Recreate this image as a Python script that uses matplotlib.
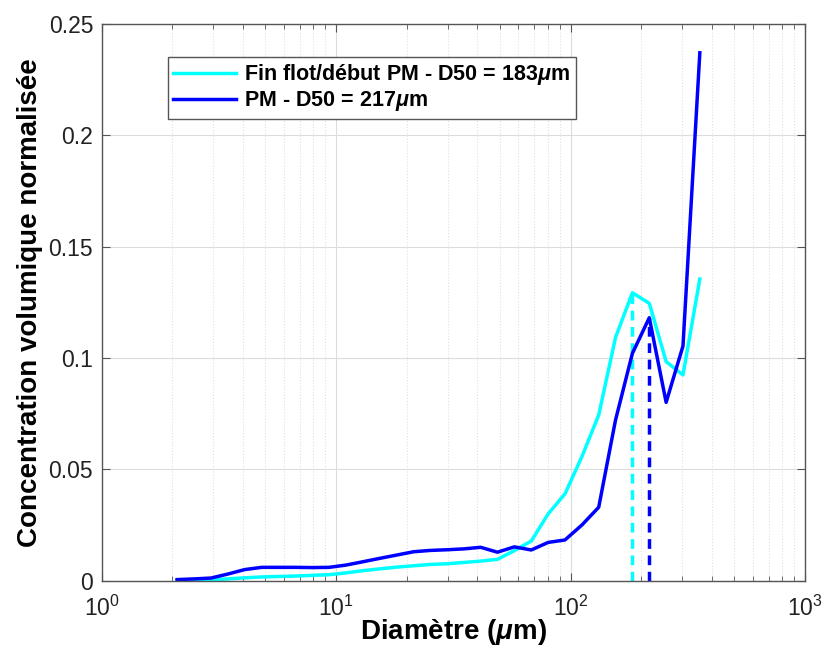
import numpy as np
import matplotlib
matplotlib.use("Agg")
import matplotlib.pyplot as plt
from matplotlib.ticker import FuncFormatter, LogLocator, NullFormatter

plt.rcParams['font.family'] = ['Liberation Sans', 'DejaVu Sans']
plt.rcParams['mathtext.fontset'] = 'custom'
plt.rcParams['mathtext.rm'] = 'Liberation Sans'
plt.rcParams['mathtext.it'] = 'Liberation Sans:italic:bold'
plt.rcParams['mathtext.bf'] = 'Liberation Sans:bold'

# size class centres (um)
diam = [2.10, 2.48, 2.93, 3.46, 4.08, 4.82, 5.68, 6.71, 7.92, 9.34,
        11.0, 13.0, 15.3, 18.1, 21.4, 25.2, 29.7, 35.1, 41.4, 48.8,
        57.6, 68.0, 80.3, 94.7, 111.8, 131.9, 155.6, 183.6, 216.7, 255.7,
        301.7, 356.0]

# Fin flot / debut PM
conc_fin_flot = [0.0000, 0.0001, 0.0004, 0.0008, 0.0013, 0.0017, 0.0019, 0.0021, 0.0024, 0.0027,
                 0.0035, 0.0045, 0.0053, 0.0061, 0.0067, 0.0073, 0.0076, 0.0082, 0.0088, 0.0096,
                 0.0135, 0.0178, 0.0300, 0.0390, 0.0557, 0.0744, 0.1093, 0.1293, 0.1246, 0.0984,
                 0.0924, 0.1355]

# PM
conc_pm = [0.0005, 0.0008, 0.0012, 0.0030, 0.0050, 0.0060, 0.0060, 0.0060, 0.0059, 0.0060,
           0.0070, 0.0085, 0.0100, 0.0115, 0.0130, 0.0136, 0.0139, 0.0143, 0.0150, 0.0128,
           0.0152, 0.0138, 0.0172, 0.0183, 0.0250, 0.0330, 0.0722, 0.1021, 0.1181, 0.0801,
           0.1054, 0.2371]

d50 = [183, 217]
labels = [r'Fin flot/début PM - D50 = 183$\mu$m', r'PM - D50 = 217$\mu$m']
colors = ['#00FFFF', '#0000FF']
series = [conc_fin_flot, conc_pm]

fig = plt.figure(figsize=(8.26, 6.5), dpi=100)
ax = fig.add_axes([0.1229, 0.1066, 0.8517, 0.8564])

for y, lab, c, d in zip(series, labels, colors, d50):
    ax.plot(diam, y, color=c, lw=2.5, label=lab)
    # dashed marker from 0 up to the curve at D50
    top = np.interp(np.log10(d), np.log10(diam), y)
    ax.plot([d, d], [0, top], color=c, lw=2.5, ls=(0, (2.8, 1.9)))

ax.set_xscale('log')
ax.set_xlim(1, 1000)
ax.set_ylim(0, 0.25)
ax.set_yticks([0, 0.05, 0.1, 0.15, 0.2, 0.25])
ax.yaxis.set_major_formatter(FuncFormatter(lambda v, p: '{:g}'.format(round(v, 2))))
ax.xaxis.set_minor_locator(LogLocator(base=10, subs=np.arange(2, 10)))
ax.xaxis.set_minor_formatter(NullFormatter())

ax.grid(True, which='major', color='#dcdcdc', lw=0.8)
ax.grid(True, which='minor', axis='x', color='#e0e0e0', lw=0.8, ls=':')
ax.set_axisbelow(True)

for s in ax.spines.values():
    s.set_color('#555555')
    s.set_linewidth(1.0)
ax.tick_params(which='both', direction='in', top=True, right=True, colors='#555555',
               labelcolor='#222222', labelsize=16.5)
ax.tick_params(which='major', length=6, pad=6)
ax.tick_params(which='minor', length=3.5)
ax.tick_params(axis='x', which='major', pad=11)

ax.set_xlabel(r'Diamètre ($\mu$m)', fontsize=20, fontweight='bold', labelpad=-3)
ax.set_ylabel('Concentration volumique normalisée', fontsize=20, fontweight='bold', labelpad=4)

leg = ax.legend(loc='upper left', bbox_to_anchor=(0.0945, 0.941),
                prop={'weight': 'bold', 'size': 15.5}, fancybox=False, framealpha=1,
                edgecolor='#555555', handlelength=2.9, handletextpad=0.4,
                borderpad=0.25, labelspacing=0.1, borderaxespad=0)
leg.get_frame().set_linewidth(1.0)

fig.savefig('out.png', dpi=100)
